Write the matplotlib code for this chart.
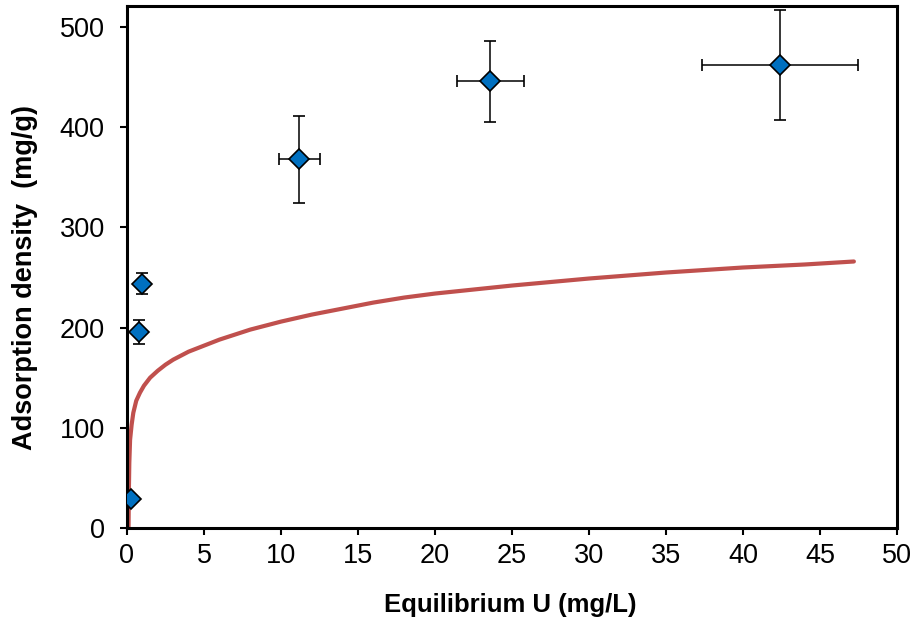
import matplotlib
matplotlib.use("Agg")
import matplotlib.pyplot as plt

plt.rcParams['font.family'] = ['Liberation Sans', 'DejaVu Sans']

# Measured data points
ce = [0.24, 0.80, 1.00, 11.2, 23.6, 42.4]
qe = [28.7, 195.5, 244.0, 368.0, 446.0, 462.0]
ce_err = [0.0, 0.0, 0.0, 1.33, 2.18, 5.07]
qe_err = [0.0, 11.7, 10.5, 43.7, 40.5, 55.0]

# Model curve
curve_x = [0.10, 0.12, 0.15, 0.20, 0.30, 0.41, 0.60, 0.84, 1.1, 1.5, 2.0, 2.5,
           3.0, 3.5, 4.0, 5.0, 6.0, 7.0, 8.0, 9.0, 10.0, 12.0, 14.0, 16.0,
           18.0, 20.0, 25.0, 30.0, 35.0, 40.0, 44.0, 47.2]
curve_y = [0.0, 35.0, 65.0, 88.0, 103.0, 115.0, 127.0, 135.0, 142.0, 150.0,
           157.0, 163.0, 168.0, 172.0, 176.0, 182.0, 188.0, 193.0, 198.0,
           202.0, 206.0, 213.0, 219.0, 225.0, 230.0, 234.0, 242.0, 249.0,
           255.0, 260.0, 263.0, 266.0]

xticks = [0, 5, 10, 15, 20, 25, 30, 35, 40, 45, 50]
yticks = [0, 100, 200, 300, 400, 500]

fig = plt.figure(figsize=(9.15, 6.21), dpi=100)
ax = fig.add_axes([127/915, 1 - 528/621, (897-127)/915, (528-6)/621])

ax.plot(curve_x, curve_y, color='#C0504D', lw=3.0, solid_capstyle='round', zorder=2)
ax.errorbar(ce, qe, xerr=ce_err, yerr=qe_err, fmt='D', ms=10.5,
            mfc='#0070C0', mec='black', mew=1.2, ecolor='black', elinewidth=1.1,
            capsize=4.3, capthick=1.1, zorder=3)

ax.set_xlim(0, 50)
ax.set_ylim(0, 521)
ax.set_xticks(xticks)
ax.set_yticks(yticks)
ax.tick_params(axis='both', direction='out', length=5, width=1.5, labelsize=19.5,
               colors='black')
ax.tick_params(axis='y', pad=11)
ax.tick_params(axis='x', pad=6)
for s in ax.spines.values():
    s.set_linewidth(2.2)
    s.set_color('black')

ax.set_xlabel('Equilibrium U (mg/L)', fontsize=18.5, fontweight='bold')
ax.set_ylabel('Adsorption density  (mg/g)', fontsize=19.5, fontweight='bold')
ax.xaxis.set_label_coords((510 - 127) / 770, -(605 - 528) / 522)
ax.yaxis.set_label_coords(-(127 - 25) / 770, (528 - 277) / 522)
ax.xaxis.label.set_va('center')
ax.yaxis.label.set_va('center')

fig.savefig('out.png', dpi=100)
